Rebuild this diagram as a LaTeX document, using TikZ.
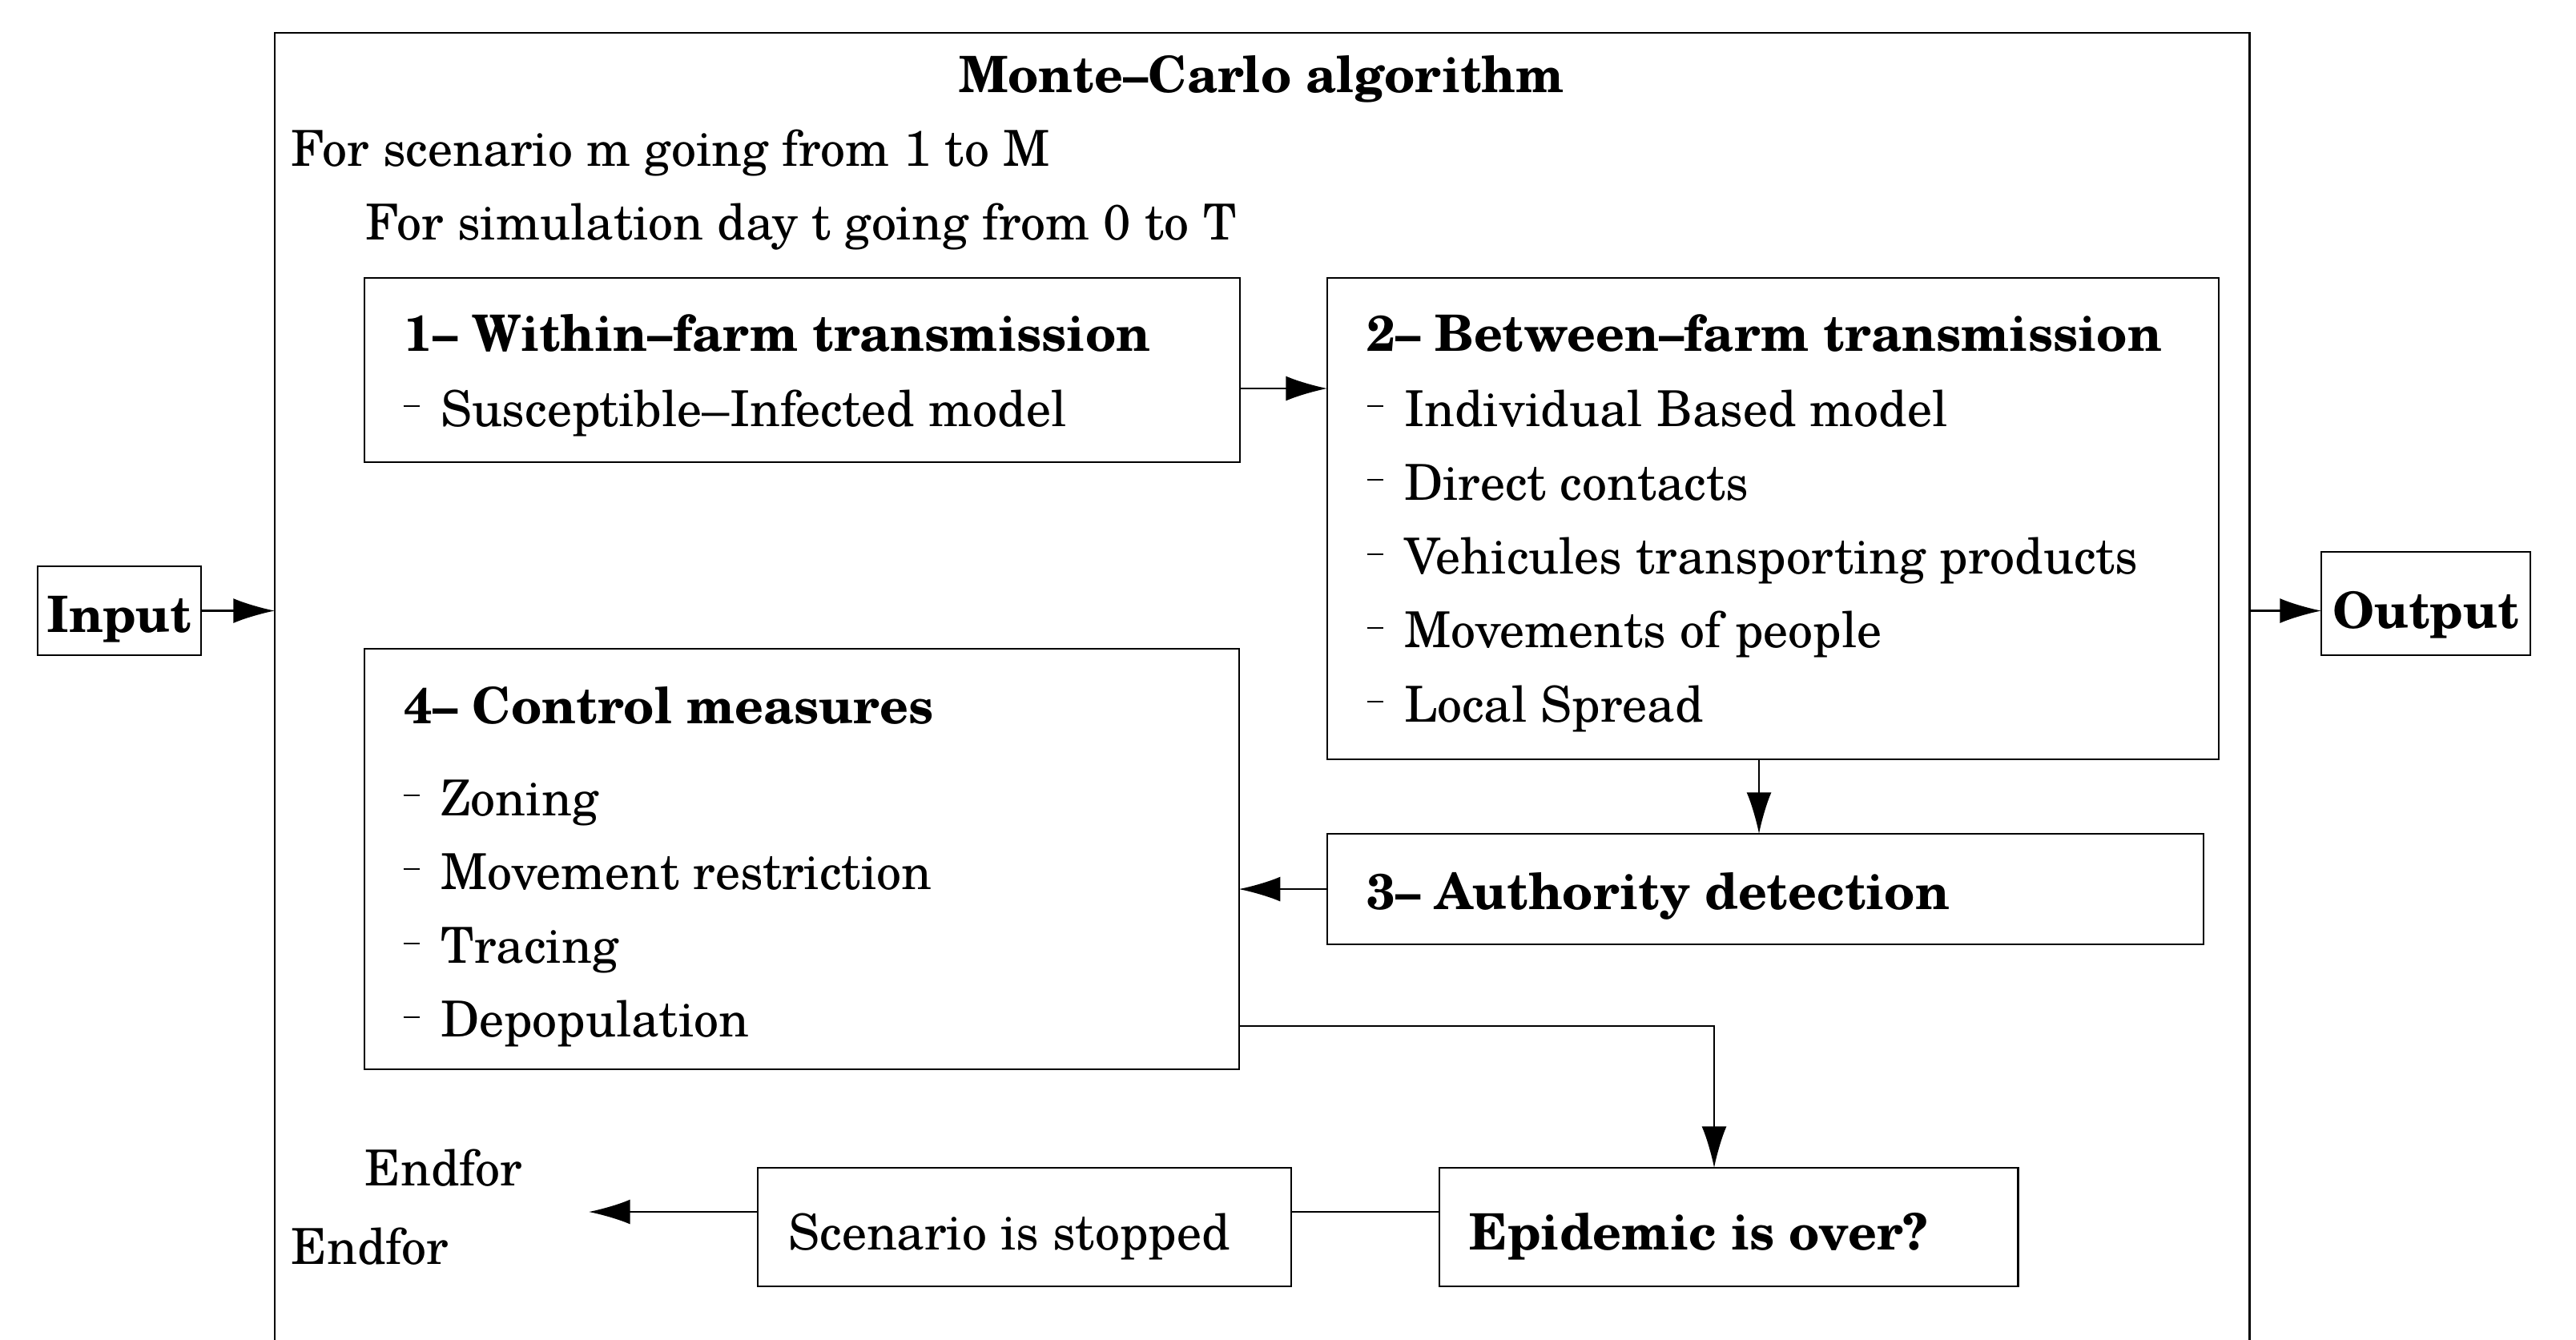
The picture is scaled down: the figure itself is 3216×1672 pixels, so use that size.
\documentclass[tikz,border=0pt]{standalone}
\usepackage{fontspec}
\setmainfont{texgyreschola}[Extension=.otf, UprightFont=*-regular, BoldFont=*-bold]
\usetikzlibrary{arrows.meta}
\newcommand\itemdash{\rule[6.8pt]{5.9pt}{0.55pt}\hspace{7.3pt}}

\begin{document}
\begin{tikzpicture}[x=0.01cm, y=-0.01cm,
    box/.style={draw, line width=0.6pt, inner sep=0pt, outer sep=0pt, anchor=north west},
    txt/.style={inner sep=0pt, anchor=base west, font=\fontsize{17.6}{21}\selectfont},
    bf/.style={txt, font=\fontsize{17.8}{21}\selectfont\bfseries},
    arr/.style={line width=0.6pt, -{Latex[length=14.7pt, width=8.8pt]}},
    link/.style={line width=0.6pt}]
  \useasboundingbox (0,0) rectangle (3216,1672);

  % outer loop and the two end boxes
  \node[box, minimum width=24.64cm, minimum height=16.6cm] (mc) at (343,41) {};
  \node[box, minimum width=2.04cm, minimum height=1.11cm, text height=15.6pt, text depth=0pt,
    font=\fontsize{17.8}{21}\selectfont\bfseries] (input) at (47,707) {Input};
  \node[box, minimum width=2.61cm, minimum height=1.29cm, text height=17.4pt, text depth=0pt,
    font=\fontsize{17.8}{21}\selectfont\bfseries] (output) at (2898,689) {Output};

  % step boxes
  \node[box, minimum width=10.92cm, minimum height=2.30cm] (within) at (455,347) {};
  \node[box, minimum width=11.12cm, minimum height=6.01cm] (between) at (1657,347) {};
  \node[box, minimum width=10.93cm, minimum height=1.38cm] (detect) at (1657,1041) {};
  \node[box, minimum width=10.91cm, minimum height=5.25cm] (control) at (455,810) {};
  \node[box, minimum width=7.22cm, minimum height=1.48cm] (over) at (1797,1458) {};
  \node[box, minimum width=6.66cm, minimum height=1.48cm] (stop) at (946,1458) {};

  % texts
  \node[bf, anchor=base] (title) at (1575,115) {Monte–Carlo algorithm};
  \node[txt] (loopm) at (363,207) {For scenario m going from 1 to M};
  \node[txt] (loopt) at (456,299) {For simulation day t going from 0 to T};
  \node[bf] (h1) at (504,438) {1– Within–farm transmission};
  \node[txt] (i11) at (503,532) {\itemdash Susceptible–Infected model};
  \node[bf] (h2) at (1706,438) {2– Between–farm transmission};
  \foreach \t [count=\k] in {Individual Based model, Direct contacts,
      Vehicules transporting products, Movements of people, Local Spread}
    \node[txt] (i2\k) at (1706,{439.7+92.3*\k}) {\itemdash \t};
  \node[bf] (h3) at (1706,1135) {3– Authority detection};
  \node[bf] (h4) at (504,903) {4– Control measures};
  \foreach \t [count=\k] in {Zoning, Movement restriction, Tracing, Depopulation}
    \node[txt] (i4\k) at (503,{925.7+92.3*\k}) {\itemdash \t};
  \node[bf] (overtxt) at (1834,1560) {Epidemic is over?};
  \node[txt] (stoptxt) at (984,1560) {Scenario is stopped};
  \node[txt] (endt) at (455,1480) {Endfor};
  \node[txt] (endm) at (363,1578) {Endfor};

  % connectors
  \coordinate (a12) at (0,485);
  \coordinate (a23) at (2196,0);
  \coordinate (c4) at (2140,1281);
  \coordinate (s) at (0,1513);
  \coordinate (back) at (735,1513);
  \draw[arr] (input.east) -- (input.east -| mc.west);
  \draw[arr] (input.east -| mc.east) -- (input.east -| output.west);
  \draw[arr] (within.east |- a12) -- (between.west |- a12);
  \draw[arr] (between.south -| a23) -- (detect.north -| a23);
  \draw[arr] (detect.west) -- (detect.west -| control.east);
  \draw[arr] (control.east |- c4) -- (c4) -- (c4 |- over.north);
  \draw[link] (over.west |- s) -- (stop.east |- s);
  \draw[arr] (stop.west |- s) -- (back);
\end{tikzpicture}
\end{document}
